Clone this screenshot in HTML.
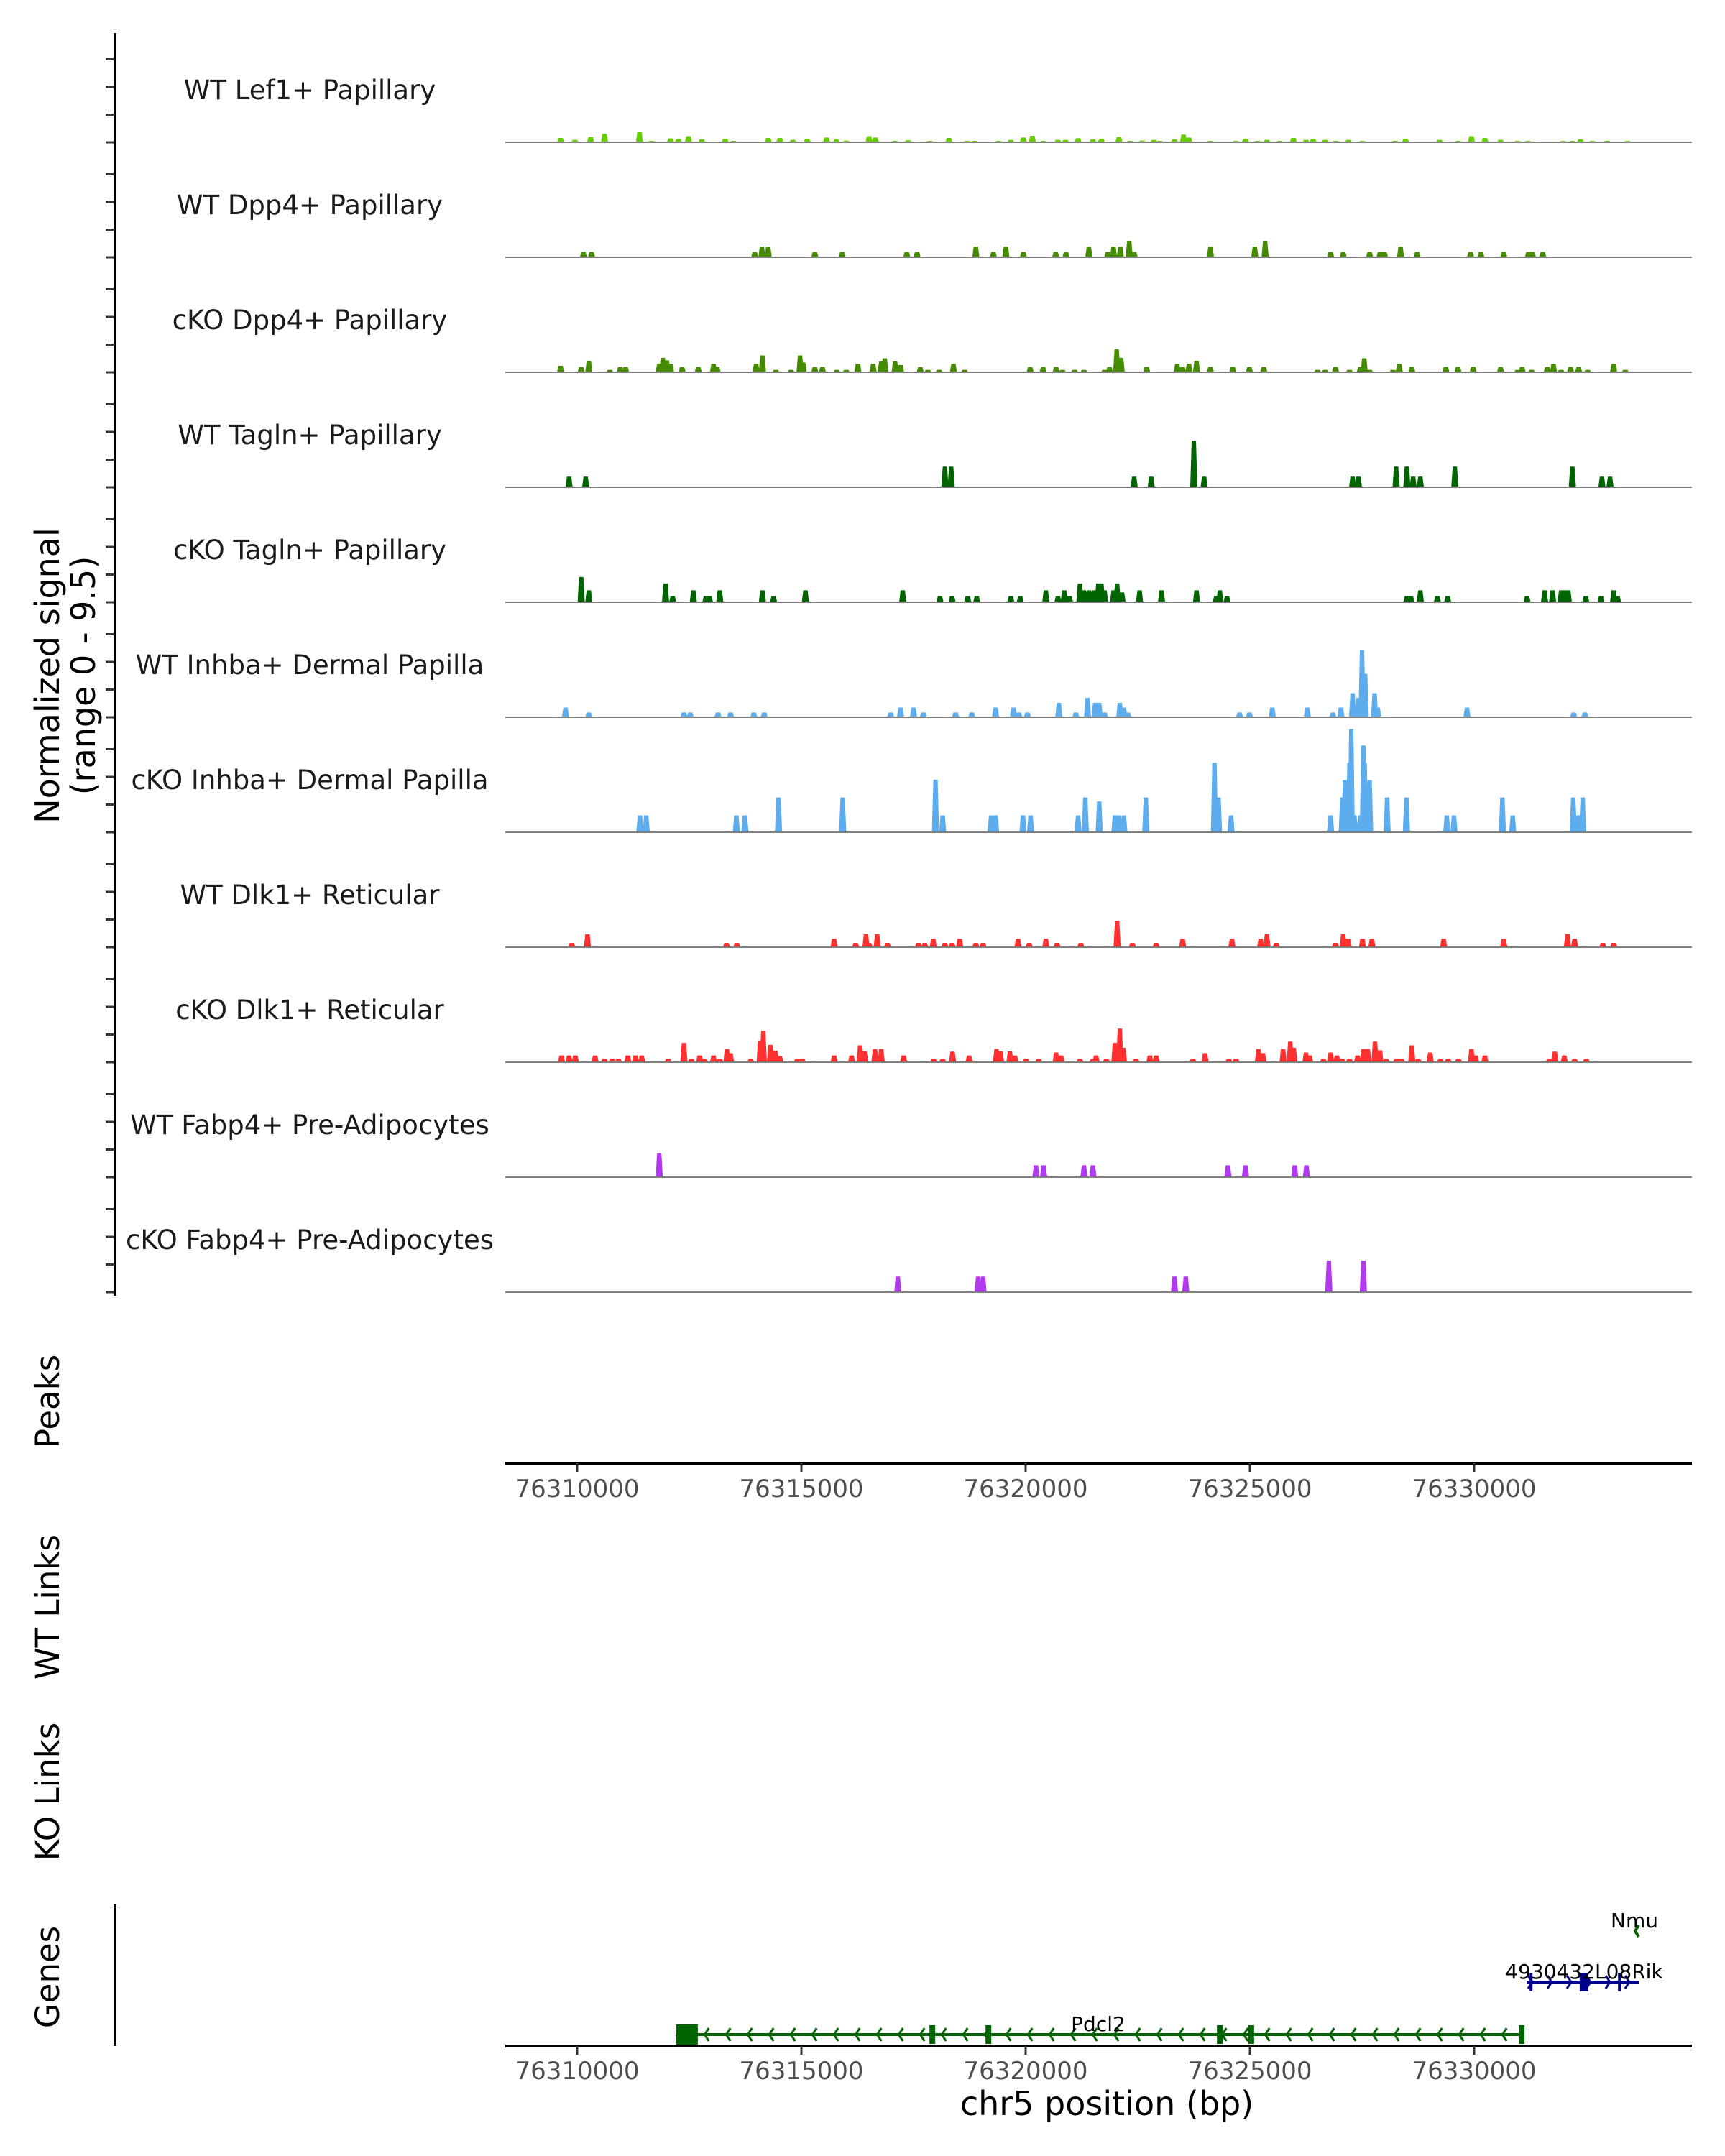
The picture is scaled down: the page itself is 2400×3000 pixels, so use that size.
<!DOCTYPE html>
<html><head><meta charset="utf-8"><style>
html,body{margin:0;padding:0;background:#fff}
svg{display:block}
text{font-family:"DejaVu Sans","Liberation Sans",sans-serif}
</style></head><body>
<svg id="chart" width="2400" height="3000" viewBox="0 0 2400 3000" xmlns="http://www.w3.org/2000/svg">
<g id="tracks"></g>
<g id="axes"></g>
<g id="genes"></g>
<text transform="translate(82,940) rotate(-90)" text-anchor="middle" font-size="46" fill="#000">Normalized signal</text>
<text transform="translate(132,940) rotate(-90)" text-anchor="middle" font-size="46" fill="#000">(range 0 - 9.5)</text>
<text transform="translate(82,1950) rotate(-90)" text-anchor="middle" font-size="45" fill="#000">Peaks</text>
<text transform="translate(82,2236) rotate(-90)" text-anchor="middle" font-size="45" fill="#000">WT Links</text>
<text transform="translate(82,2493) rotate(-90)" text-anchor="middle" font-size="45" fill="#000">KO Links</text>
<text transform="translate(82,2751) rotate(-90)" text-anchor="middle" font-size="45" fill="#000">Genes</text>
<text x="1540" y="2943" text-anchor="middle" font-size="46" fill="#000">chr5 position (bp)</text>
</svg>
<script>
const trackNames=["WT Lef1+ Papillary","WT Dpp4+ Papillary","cKO Dpp4+ Papillary","WT Tagln+ Papillary","cKO Tagln+ Papillary","WT Inhba+ Dermal Papilla","cKO Inhba+ Dermal Papilla","WT Dlk1+ Reticular","cKO Dlk1+ Reticular","WT Fabp4+ Pre-Adipocytes","cKO Fabp4+ Pre-Adipocytes"];
const trackColors=["#66CD00","#458B00","#458B00","#006400","#006400","#5CACEE","#5CACEE","#FF3030","#FF3030","#B23AEE","#B23AEE"];
const xTicks=[76310000,76315000,76320000,76325000,76330000];
// positions in kb, values in normalized signal
const lef1Pos=[76309.63,76309.95,76310.30,76310.61,76311.39,76311.65,76312.08,76312.26,76312.48,76312.78,76313.30,76313.49,76314.26,76314.52,76314.81,76315.13,76315.56,76315.78,76316.00,76316.51,76316.65,76317.09,76317.38,76317.87,76318.29,76318.69,76318.87,76319.40,76319.67,76319.95,76320.15,76320.39,76320.72,76320.89,76321.17,76321.50,76321.69,76322.08,76322.33,76322.60,76322.86,76323.00,76323.32,76323.52,76323.64,76324.12,76324.69,76324.90,76325.17,76325.38,76325.67,76325.97,76326.25,76326.41,76326.68,76326.91,76327.20,76327.51,76328.24,76328.47,76329.23,76329.65,76329.94,76330.24,76330.59,76330.97,76331.20,76331.98,76332.19,76332.37,76332.64,76332.97,76333.42];
const lef1Val=[0.4,0.22,0.49,0.78,0.93,0.11,0.36,0.31,0.56,0.27,0.33,0.11,0.4,0.4,0.22,0.33,0.44,0.27,0.16,0.56,0.44,0.11,0.18,0.11,0.4,0.11,0.11,0.09,0.22,0.44,0.6,0.11,0.22,0.22,0.38,0.27,0.33,0.49,0.11,0.16,0.22,0.11,0.27,0.71,0.44,0.11,0.11,0.33,0.11,0.22,0.11,0.4,0.22,0.31,0.22,0.11,0.22,0.11,0.11,0.33,0.22,0.11,0.56,0.4,0.22,0.11,0.11,0.11,0.11,0.27,0.11,0.11,0.11];
const dpp4WtPos=[76310.14,76310.32,76313.96,76314.12,76314.26,76315.30,76315.91,76317.35,76317.58,76318.89,76319.28,76319.56,76319.95,76320.67,76320.90,76321.41,76321.83,76321.96,76322.11,76322.31,76322.42,76324.12,76325.11,76325.34,76326.80,76327.08,76327.67,76327.90,76328.00,76328.36,76328.73,76329.92,76330.15,76330.66,76331.21,76331.30,76331.53];
const dpp4WtVal=[0.49,0.49,0.49,0.98,0.98,0.49,0.49,0.49,0.49,0.98,0.49,0.98,0.49,0.49,0.49,0.98,0.49,0.98,0.98,1.47,0.49,0.98,0.98,1.47,0.49,0.49,0.49,0.49,0.49,0.98,0.49,0.49,0.49,0.49,0.49,0.49,0.49];
const dpp4KoPos=[76309.63,76310.09,76310.26,76310.73,76310.96,76311.08,76311.83,76311.91,76312.00,76312.08,76312.34,76312.70,76313.04,76313.12,76313.99,76314.13,76314.43,76314.77,76314.97,76315.04,76315.30,76315.47,76315.79,76316.00,76316.26,76316.60,76316.78,76316.86,76317.09,76317.21,76317.65,76317.82,76318.07,76318.39,76318.64,76320.10,76320.39,76320.68,76320.82,76321.09,76321.30,76321.76,76321.87,76322.03,76322.13,76322.70,76323.38,76323.50,76323.64,76323.81,76324.12,76324.62,76324.99,76325.31,76326.51,76326.68,76326.91,76327.22,76327.46,76327.55,76327.67,76328.19,76328.33,76328.61,76329.37,76329.64,76329.98,76330.59,76330.97,76331.07,76331.28,76331.63,76331.77,76331.94,76332.15,76332.33,76332.53,76333.11,76333.37];
const dpp4KoVal=[0.6,0.49,1.04,0.22,0.49,0.49,0.78,1.33,1.1,0.78,0.49,0.49,0.78,0.49,0.78,1.56,0.22,0.22,1.56,0.9,0.49,0.49,0.22,0.22,0.78,0.78,1.0,1.29,1.0,0.67,0.49,0.22,0.22,0.78,0.22,0.49,0.49,0.49,0.22,0.22,0.22,0.22,0.49,2.11,1.33,0.49,0.78,0.49,0.78,1.04,0.49,0.49,0.49,0.49,0.22,0.22,0.49,0.22,0.49,1.29,0.22,0.22,0.78,0.49,0.49,0.49,0.49,0.49,0.22,0.49,0.22,0.49,0.78,0.22,0.49,0.49,0.22,0.78,0.22];
const taglnWtPos=[76309.82,76310.19,76318.20,76318.34,76322.42,76322.80,76323.75,76323.98,76327.29,76327.42,76328.26,76328.50,76328.64,76328.80,76329.57,76332.19,76332.85,76333.03];
const taglnWtVal=[0.98,0.98,1.9,1.9,0.98,0.98,4.3,0.98,0.98,0.98,1.9,1.9,0.98,0.98,1.9,1.9,0.98,0.98];
const taglnKoPos=[76310.09,76310.26,76311.97,76312.13,76312.59,76312.87,76312.95,76313.18,76314.13,76314.38,76315.09,76317.26,76318.09,76318.36,76318.71,76318.91,76319.67,76319.88,76320.45,76320.72,76320.86,76320.98,76321.21,76321.30,76321.41,76321.52,76321.62,76321.69,76321.76,76321.96,76322.04,76322.15,76322.54,76323.03,76323.81,76324.25,76324.33,76324.49,76328.50,76328.59,76328.80,76329.18,76329.41,76331.18,76331.57,76331.75,76331.94,76332.01,76332.10,76332.49,76332.83,76333.11,76333.20];
const taglnKoVal=[2.33,1.1,1.73,0.56,1.1,0.56,0.56,1.1,1.1,0.56,1.1,1.1,0.56,0.56,0.56,0.56,0.56,0.56,1.1,0.56,1.1,0.56,1.73,1.1,1.1,1.1,1.73,1.73,1.1,1.1,1.73,0.9,1.1,1.1,1.1,0.56,1.1,0.56,0.56,0.56,1.1,0.56,0.56,0.56,1.1,1.1,1.1,1.1,1.1,0.56,0.56,1.1,0.56];
const inhbaWtPos=[76309.74,76310.26,76312.38,76312.52,76313.14,76313.42,76313.94,76314.17,76316.99,76317.21,76317.50,76317.72,76318.44,76318.80,76319.33,76319.73,76319.85,76320.04,76320.74,76321.12,76321.38,76321.55,76321.64,76321.76,76322.10,76322.19,76322.28,76324.77,76324.99,76325.50,76326.28,76326.85,76327.03,76327.29,76327.42,76327.50,76327.57,76327.78,76327.85,76329.84,76332.22,76332.47];
const inhbaWtVal=[0.89,0.44,0.44,0.44,0.44,0.44,0.44,0.44,0.44,0.89,0.89,0.44,0.44,0.44,0.89,0.89,0.44,0.44,1.33,0.44,1.78,1.33,1.33,0.44,1.33,0.89,0.44,0.44,0.44,0.89,0.89,0.44,0.89,2.22,1.78,6.2,4.0,2.22,0.89,0.89,0.44,0.44];
const inhbaKoPos=[76311.40,76311.54,76313.55,76313.74,76314.49,76315.92,76317.99,76318.15,76319.23,76319.33,76319.94,76320.11,76321.17,76321.33,76321.64,76321.99,76322.08,76322.19,76322.68,76324.21,76324.30,76324.58,76326.80,76327.06,76327.12,76327.22,76327.26,76327.33,76327.46,76327.53,76327.56,76327.67,76328.06,76328.49,76329.39,76329.55,76330.63,76330.86,76332.21,76332.33,76332.42];
const inhbaKoVal=[1.56,1.56,1.56,1.56,3.2,3.2,4.84,1.56,1.56,1.56,1.56,1.56,1.56,3.2,2.84,1.56,1.56,1.56,3.2,6.4,3.2,1.56,1.56,3.2,4.8,6.4,9.5,1.56,1.56,8.0,6.4,4.8,3.2,3.2,1.56,1.56,3.2,1.56,3.2,1.56,3.2];
const dlk1WtPos=[76309.88,76310.23,76313.33,76313.56,76315.73,76316.21,76316.44,76316.51,76316.69,76316.92,76317.61,76317.75,76317.94,76318.20,76318.36,76318.53,76318.89,76319.05,76319.83,76320.08,76320.45,76320.70,76321.23,76322.04,76322.38,76322.91,76323.50,76324.60,76325.24,76325.38,76325.59,76326.91,76327.08,76327.19,76327.51,76327.72,76329.32,76330.66,76332.08,76332.24,76332.87,76333.11];
const dlk1WtVal=[0.4,1.2,0.4,0.4,0.78,0.4,1.2,0.4,1.2,0.4,0.4,0.4,0.78,0.4,0.4,0.78,0.4,0.4,0.78,0.4,0.78,0.4,0.4,2.44,0.4,0.4,0.78,0.78,0.78,1.2,0.4,0.4,1.2,0.78,0.78,0.78,0.78,0.78,1.2,0.78,0.4,0.4];
const dlk1KoPos=[76309.65,76309.82,76309.96,76310.40,76310.61,76310.78,76310.92,76311.13,76311.30,76311.44,76312.03,76312.38,76312.55,76312.73,76312.84,76313.04,76313.18,76313.34,76313.42,76313.87,76314.08,76314.15,76314.31,76314.42,76314.52,76314.91,76315.02,76315.73,76316.12,76316.31,76316.41,76316.64,76316.78,76317.28,76317.95,76318.15,76318.37,76318.74,76319.35,76319.44,76319.65,76319.76,76320.01,76320.29,76320.68,76320.79,76321.21,76321.50,76321.57,76321.80,76321.99,76322.10,76322.18,76322.46,76322.77,76322.91,76323.73,76324.00,76324.53,76324.69,76325.19,76325.29,76325.74,76325.90,76325.98,76326.25,76326.33,76326.64,76326.80,76326.94,76327.06,76327.22,76327.40,76327.53,76327.63,76327.79,76327.90,76328.04,76328.27,76328.38,76328.61,76328.75,76329.02,76329.25,76329.42,76329.65,76329.94,76330.03,76330.24,76331.68,76331.80,76332.01,76332.24,76332.50];
const dlk1KoVal=[0.62,0.62,0.62,0.62,0.31,0.31,0.31,0.62,0.62,0.62,0.31,1.78,0.31,0.62,0.31,0.62,0.31,1.22,0.84,0.31,2.0,2.9,1.6,1.07,0.56,0.31,0.31,0.62,0.62,1.56,1.0,1.22,1.22,0.62,0.31,0.31,0.98,0.62,1.22,1.0,1.0,0.62,0.31,0.31,0.89,0.62,0.31,0.31,0.62,0.31,1.78,3.1,1.33,0.31,0.62,0.62,0.31,0.84,0.31,0.31,1.22,0.84,1.22,1.9,1.33,0.89,0.62,0.31,0.89,0.62,0.31,0.31,0.62,1.22,1.22,1.9,1.1,0.31,0.31,0.31,1.56,0.31,0.89,0.31,0.31,0.31,1.22,0.62,0.62,0.31,0.98,0.62,0.31,0.31];
const fabp4WtPos=[76311.83,76320.23,76320.40,76321.30,76321.50,76324.51,76324.90,76326.00,76326.26];
const fabp4WtVal=[2.2,1.1,1.1,1.1,1.1,1.1,1.1,1.1,1.1];
const fabp4KoPos=[76317.15,76318.94,76319.05,76323.32,76323.57,76326.76,76327.53];
const fabp4KoVal=[1.44,1.44,1.44,1.44,1.44,2.9,2.9];
const trackPos=[lef1Pos,dpp4WtPos,dpp4KoPos,taglnWtPos,taglnKoPos,inhbaWtPos,inhbaKoPos,dlk1WtPos,dlk1KoPos,fabp4WtPos,fabp4KoPos];
const trackVal=[lef1Val,dpp4WtVal,dpp4KoVal,taglnWtVal,taglnKoVal,inhbaWtVal,inhbaKoVal,dlk1WtVal,dlk1KoVal,fabp4WtVal,fabp4KoVal];
const pdcl2Exons=[76312450,76317920,76319170,76324330,76325030,76331060];

const NS="http://www.w3.org/2000/svg";
const X0=703,X1=2354;
function xScale(bp){return 803+(bp-76310000)*0.0624;}
function base(i){return 198+160*i;}
function yScale(v){return v*15.1;}
function mk(tag,attrs,parent){const e=document.createElementNS(NS,tag);for(const k in attrs)e.setAttribute(k,attrs[k]);parent.appendChild(e);return e;}

const tracks=document.getElementById('tracks');
const axes=document.getElementById('axes');
const genes=document.getElementById('genes');

trackNames.forEach((name,i)=>{
  const g=mk('g',{},tracks);
  
  
  const b=base(i);
  const lbl=mk('text',{x:431,y:b-60,'text-anchor':'middle','font-size':37,fill:'#1a1a1a'},g);
  lbl.textContent=name;
  
  
  const pos=trackPos[i],val=trackVal[i];
  for(let j=0;j<pos.length;j++){
    const x=xScale(pos[j]*1000),h=Math.max(yScale(val[j]),2);
    const p=mk('polygon',{points:`${x-5},${b} ${x-3},${b-h} ${x+3},${b-h} ${x+5},${b}`,fill:trackColors[i]},g);
    
    
  }
  const ln=mk('line',{x1:X0,x2:X1,y1:b,y2:b,stroke:'#7f7f7f','stroke-width':2},g);
  
  
  [0,38.5,77,115.5].forEach(o=>{
    const t=mk('line',{x1:147,x2:160,y1:b-o,y2:b-o,stroke:'#333','stroke-width':3},axes);
    
    
  });
});
const yax=mk('line',{x1:160,x2:160,y1:46,y2:1803,stroke:'#000','stroke-width':4},axes);


const gax=mk('line',{x1:160,x2:160,y1:2649,y2:2847,stroke:'#000','stroke-width':4},axes);



[[2036,2083],[2847,2893]].forEach(([ay,ty],k)=>{
  const a=mk('line',{x1:X0,x2:X1,y1:ay,y2:ay,stroke:'#000','stroke-width':4},axes);
  
  
  xTicks.forEach(v=>{
    const x=xScale(v);
    const t=mk('line',{x1:x,x2:x,y1:ay,y2:ay+12,stroke:'#333','stroke-width':3},axes);
    
    
    const tl=mk('text',{x:x,y:ty,'text-anchor':'middle','font-size':34,fill:'#4d4d4d'},axes);
    tl.textContent=String(v);
    
    
  });
});

// Pdcl2 gene (minus strand)
const gy=2831,gs=xScale(76312200),ge=xScale(76331090);
const pl=mk('line',{x1:gs,x2:ge,y1:gy,y2:gy,stroke:'#006400','stroke-width':4},genes);


for(let x=gs+40;x<ge-10;x+=30){
  const c=mk('polyline',{points:`${x+6},${gy-9} ${x},${gy} ${x+6},${gy+9}`,fill:'none',stroke:'#006400','stroke-width':3},genes);
  
  
}
pdcl2Exons.forEach((bp,k)=>{
  const x=xScale(bp),w=k===0?30:8,h=k===0?28:26;
  const r=mk('rect',{x:x-w/2,y:gy-h/2,width:w,height:h,fill:'#006400'},genes);
  
  
});
const pt=mk('text',{x:1528,y:2826,'text-anchor':'middle','font-size':28,fill:'#000'},genes);
pt.textContent='Pdcl2';


// 4930432L08Rik (plus strand)
const ry=2758,rs=xScale(76331170),re=xScale(76333670);
const rl=mk('line',{x1:rs,x2:re,y1:ry,y2:ry,stroke:'#00008B','stroke-width':4},genes);


for(let x=rs+8;x<=re;x+=27){
  const c=mk('polyline',{points:`${x-6},${ry-9} ${x},${ry} ${x-6},${ry+9}`,fill:'none',stroke:'#00008B','stroke-width':3},genes);
  
  
}
[[76331270,4],[76332450,12],[76333240,4]].forEach(([bp,w])=>{
  const x=xScale(bp);
  const r=mk('rect',{x:x-w/2,y:ry-13,width:w,height:26,fill:'#00008B'},genes);
  
  
});
const rt=mk('text',{x:2204,y:2753,'text-anchor':'middle','font-size':28,fill:'#000'},genes);
rt.textContent='4930432L08Rik';


// Nmu
const nx=xScale(76333590);
const nm=mk('polyline',{points:`${nx+5},${2679} ${nx},${2687} ${nx+5},${2695}`,fill:'none',stroke:'#006400','stroke-width':4},genes);


const nt=mk('text',{x:2274,y:2682,'text-anchor':'middle','font-size':28,fill:'#000'},genes);
nt.textContent='Nmu';


</script>
</body></html>
